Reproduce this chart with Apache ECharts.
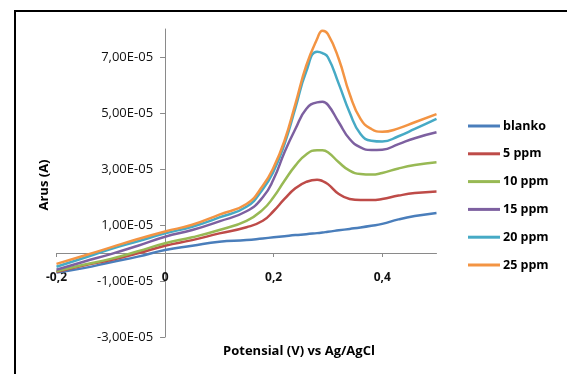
<!DOCTYPE html>
<html>
<head>
<meta charset="utf-8">
<script src="https://cdn.jsdelivr.net/npm/echarts@6/dist/echarts.min.js"></script>
<style>
  html, body { margin: 0; padding: 0; background: #fff; }
  #voltChart { width: 567px; height: 374px; }
</style>
</head>
<body>
<div id="voltChart"></div>
<script>
// potensial (V) vs Ag/AgCl
const xs = [-0.2, -0.15, -0.1, -0.05, 0, 0.05, 0.1, 0.15, 0.18, 0.2, 0.22, 0.24, 0.26, 0.28, 0.29, 0.3, 0.32, 0.34, 0.36, 0.38, 0.4, 0.43, 0.46, 0.5];
// arus, in units of 1e-5 A
const blanko = [-0.70, -0.54, -0.33, -0.13, 0.11, 0.26, 0.40, 0.46, 0.52, 0.56, 0.60, 0.64, 0.67, 0.71, 0.73, 0.76, 0.81, 0.86, 0.91, 0.97, 1.04, 1.20, 1.32, 1.43];
const ppm5 = [-0.68, -0.45, -0.25, -0.01, 0.26, 0.46, 0.70, 0.92, 1.15, 1.50, 1.93, 2.31, 2.54, 2.62, 2.57, 2.46, 2.11, 1.93, 1.89, 1.89, 1.93, 2.05, 2.14, 2.20];
const ppm10 = [-0.65, -0.42, -0.21, 0.06, 0.35, 0.56, 0.82, 1.15, 1.55, 2.00, 2.58, 3.12, 3.52, 3.67, 3.67, 3.60, 3.24, 2.94, 2.82, 2.80, 2.86, 3.02, 3.14, 3.24];
const ppm15 = [-0.60, -0.31, -0.04, 0.26, 0.58, 0.82, 1.13, 1.49, 1.99, 2.64, 3.60, 4.43, 5.14, 5.38, 5.40, 5.29, 4.67, 4.07, 3.77, 3.68, 3.69, 3.89, 4.10, 4.31];
const ppm20 = [-0.49, -0.18, 0.14, 0.42, 0.70, 0.94, 1.27, 1.65, 2.28, 2.92, 3.89, 5.17, 6.48, 7.19, 7.14, 6.99, 6.04, 5.02, 4.25, 4.01, 3.98, 4.17, 4.43, 4.79];
const ppm25 = [-0.39, -0.10, 0.20, 0.50, 0.77, 1.01, 1.37, 1.75, 2.40, 3.06, 4.01, 5.32, 6.69, 7.64, 7.94, 7.82, 6.93, 5.68, 4.79, 4.43, 4.33, 4.45, 4.67, 4.96];

const seriesNames = ['blanko', '5 ppm', '10 ppm', '15 ppm', '20 ppm', '25 ppm'];
const seriesData = [blanko, ppm5, ppm10, ppm15, ppm20, ppm25];
const colors = ['#4a7ebb', '#be4b48', '#98b954', '#7d60a0', '#46aac5', '#f39443'];

const xTicks = [-0.2, 0, 0.2, 0.4];
const yTicks = [-3e-5, -1e-5, 1e-5, 3e-5, 5e-5, 7e-5];
const SCALE = 1e-5;

function fmtSci(v) {
  let s = v.toExponential(2); // e.g. 7.00e-5
  let parts = s.split('e');
  let exp = parseInt(parts[1], 10);
  let sign = exp < 0 ? '-' : '+';
  let digits = String(Math.abs(exp)).padStart(2, '0');
  return parts[0].replace('.', ',') + 'E' + sign + digits;
}

const myChart = echarts.init(document.getElementById('voltChart'));
const fontFam = '"Open Sans", Lato, sans-serif';
const axisGray = '#8a8a8a';

myChart.setOption({
  animation: false,
  textStyle: { fontFamily: fontFam },
  grid: {
    left: 56.5,
    right: 130.5,
    top: 29,
    bottom: 37,
    containLabel: false,
    outerBoundsMode: 'none'
  },
  legend: {
    orient: 'vertical',
    left: 468,
    top: 119,
    padding: 0,
    icon: 'rect',
    itemWidth: 32,
    itemHeight: 3,
    itemGap: 13.8,
    data: seriesNames,
    textStyle: {
      fontFamily: fontFam,
      fontSize: 12.5,
      lineHeight: 14,
      fontWeight: 'bold',
      color: '#000',
      padding: [0, 0, 0, -2]
    }
  },
  xAxis: {
    type: 'value',
    min: -0.2,
    max: 0.5,
    position: 'bottom',
    splitLine: { show: false },
    axisLine: { onZero: false, lineStyle: { color: axisGray, width: 1 } },
    axisTick: { customValues: xTicks, length: 4, lineStyle: { color: axisGray } },
    axisLabel: {
      customValues: xTicks,
      margin: 19,
      fontSize: 12,
      fontWeight: 'bold',
      color: '#111',
      formatter: function (v) {
        return String(Math.round(v * 10) / 10).replace('.', ',');
      }
    }
  },
  yAxis: {
    type: 'value',
    min: -3e-5,
    max: 8e-5,
    position: 'left',
    splitLine: { show: false },
    axisLine: { show: true, onZero: false, lineStyle: { color: axisGray, width: 1 } },
    axisTick: { show: true, customValues: yTicks, length: 5, lineStyle: { color: axisGray } },
    axisLabel: {
      customValues: yTicks,
      margin: 12,
      fontSize: 13,
      color: '#111',
      formatter: fmtSci
    }
  },
  graphic: [
    {
      type: 'rect',
      shape: { x: 15, y: 11, width: 620, height: 420 },
      style: { fill: 'none', stroke: '#000', lineWidth: 2 },
      silent: true
    },
    {
      type: 'text',
      x: 299,
      y: 351,
      style: {
        text: 'Potensial (V) vs Ag/AgCl',
        fontFamily: fontFam,
        fontSize: 13,
        fontWeight: 'bold',
        fill: '#000',
        align: 'center',
        verticalAlign: 'middle'
      }
    },
    {
      type: 'text',
      x: 44,
      y: 185,
      rotation: Math.PI / 2,
      style: {
        text: 'Arus (A)',
        fontFamily: fontFam,
        fontSize: 13,
        fontWeight: 'bold',
        fill: '#000',
        align: 'center',
        verticalAlign: 'middle'
      }
    }
  ],
  series: seriesNames.map(function (name, i) {
    return {
      name: name,
      type: 'line',
      smooth: 0.5,
      symbol: 'none',
      color: colors[i],
      lineStyle: { width: 2.5, color: colors[i] },
      data: xs.map(function (x, j) { return [x, seriesData[i][j] * SCALE]; })
    };
  })
});

// axes cross at (0, 0) like the excel chart: shift both axes (line, ticks and labels) there
const origin = myChart.convertToPixel({ gridIndex: 0 }, [0, 0]);
const rect = myChart.getModel().getComponent('grid', 0).coordinateSystem.getRect();
myChart.setOption({
  xAxis: { offset: -(rect.y + rect.height - origin[1]) },
  yAxis: { offset: -(origin[0] - rect.x) }
});
</script>
</body>
</html>
